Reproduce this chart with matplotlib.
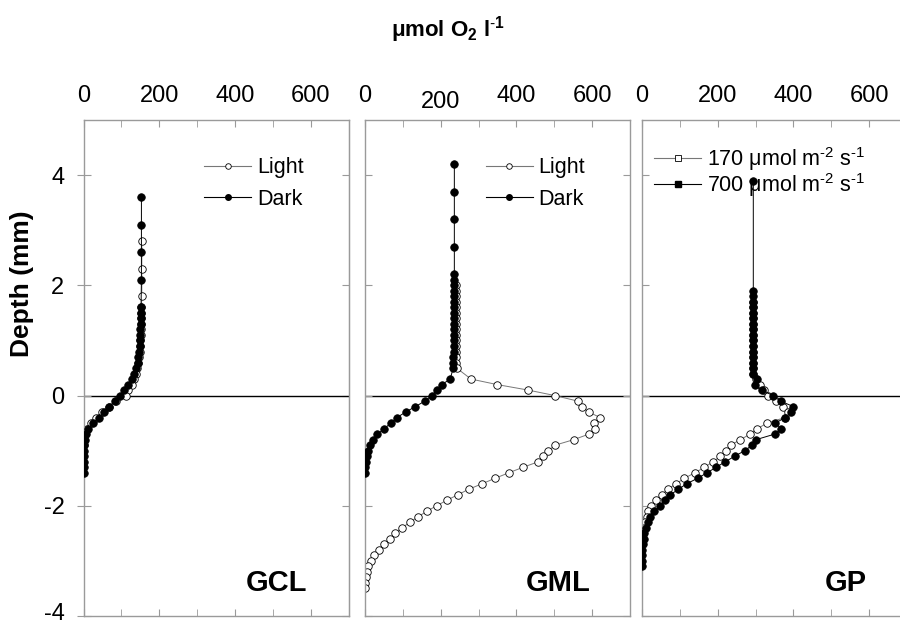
import matplotlib
matplotlib.use('Agg')
import matplotlib.pyplot as plt
from matplotlib.lines import Line2D
from matplotlib.transforms import ScaledTranslation

plt.rcParams['font.family'] = ['Liberation Sans', 'DejaVu Sans']
plt.rcParams['mathtext.fontset'] = 'custom'
plt.rcParams['mathtext.rm'] = 'Liberation Sans'
plt.rcParams['mathtext.bf'] = 'Liberation Sans:bold'
plt.rcParams['axes.unicode_minus'] = False

# GCL
gcl_dark_depth = [3.6, 3.1, 2.6, 2.1, 1.6, 1.5, 1.4, 1.3, 1.2, 1.1, 1.0, 0.9, 0.8, 0.7, 0.6, 0.5,
                  0.4, 0.3, 0.2, 0.1, 0.0, -0.1, -0.2, -0.3, -0.4, -0.5, -0.6, -0.7, -0.8, -0.9,
                  -1.0, -1.1, -1.2, -1.3, -1.4]
gcl_dark_o2 = [153, 153, 153, 153, 152, 152, 151, 151, 150, 150, 149, 148, 147, 145, 143, 139,
               134, 127, 118, 108, 97, 82, 68, 55, 40, 25, 12, 6, 3, 2,
               1, 1, 0, 0, 0]
gcl_light_depth = [2.8, 2.3, 1.8, 1.6, 1.5, 1.4, 1.3, 1.2, 1.1, 1.0, 0.9, 0.8, 0.7, 0.6, 0.5,
                   0.4, 0.3, 0.2, 0.1, 0.0, -0.1, -0.2, -0.3, -0.4, -0.5, -0.6, -0.7, -0.8, -0.9]
gcl_light_o2 = [154, 154, 154, 153, 153, 152, 152, 151, 151, 150, 149, 148, 147, 145, 142,
                138, 134, 127, 118, 112, 86, 68, 48, 33, 20, 10, 5, 2, 1]

# GML
gml_dark_depth = [4.2, 3.7, 3.2, 2.7, 2.2, 2.1, 2.0, 1.9, 1.8, 1.7, 1.6, 1.5, 1.4, 1.3, 1.2,
                  1.1, 1.0, 0.9, 0.8, 0.7, 0.6, 0.5, 0.3, 0.2, 0.1, 0.0, -0.1, -0.2, -0.3,
                  -0.4, -0.5, -0.6, -0.7, -0.8, -0.9, -1.0, -1.1, -1.2, -1.3, -1.4]
gml_dark_o2 = [236, 236, 236, 236, 236, 235, 235, 235, 235, 235, 235, 235, 235, 235, 234,
               234, 234, 234, 234, 233, 233, 233, 225, 203, 190, 176, 158, 133, 107,
               84, 68, 51, 33, 20, 13, 8, 5, 3, 1, 0]
gml_light_depth = [2.0, 1.9, 1.8, 1.7, 1.6, 1.5, 1.4, 1.3, 1.2, 1.1, 1.0, 0.9, 0.8, 0.7, 0.6,
                   0.5, 0.3, 0.2, 0.1, 0.0, -0.1, -0.2, -0.3, -0.4, -0.5, -0.6, -0.7, -0.8,
                   -0.9, -1.0, -1.1, -1.2, -1.3, -1.4, -1.5, -1.6, -1.7, -1.8, -1.9, -2.0,
                   -2.1, -2.2, -2.3, -2.4, -2.5, -2.6, -2.7, -2.8, -2.9, -3.0, -3.1, -3.2,
                   -3.3, -3.4, -3.5]
gml_light_o2 = [240, 240, 240, 240, 240, 240, 240, 240, 240, 240, 240, 240, 241, 241, 241,
                242, 280, 349, 431, 502, 562, 572, 591, 622, 604, 608, 591, 551,
                502, 484, 471, 458, 418, 380, 344, 309, 274, 245, 216, 189,
                163, 140, 118, 98, 80, 65, 49, 36, 25, 16, 9, 5,
                2, 1, 0]

# GP
gp_dark_depth = [3.9, 1.9, 1.8, 1.7, 1.6, 1.5, 1.4, 1.3, 1.2, 1.1, 1.0, 0.9, 0.8, 0.7, 0.6,
                 0.5, 0.4, 0.3, 0.2, 0.1, 0.0, -0.1, -0.2, -0.3, -0.4, -0.5, -0.6, -0.7,
                 -0.8, -0.9, -1.0, -1.1, -1.2, -1.3, -1.4, -1.5, -1.6, -1.7, -1.8, -1.9,
                 -2.0, -2.1, -2.2, -2.3, -2.4, -2.5, -2.6, -2.7, -2.8, -2.9, -3.0, -3.1]
gp_dark_o2 = [294, 294, 294, 294, 294, 294, 294, 294, 294, 294, 294, 294, 294, 294, 294,
              294, 294, 305, 298, 318, 345, 366, 400, 393, 378, 352, 368, 350,
              301, 291, 271, 245, 220, 196, 172, 147, 118, 96, 75, 60,
              48, 32, 22, 15, 10, 6, 4, 2, 1, 0, 0, 0]
gp_light_depth = [1.7, 1.6, 1.5, 1.4, 1.3, 1.2, 1.1, 1.0, 0.9, 0.8, 0.7, 0.6, 0.5, 0.4,
                  0.3, 0.2, 0.1, 0.0, -0.1, -0.2, -0.3, -0.4, -0.5, -0.6, -0.7, -0.8,
                  -0.9, -1.0, -1.1, -1.2, -1.3, -1.4, -1.5, -1.6, -1.7, -1.8, -1.9,
                  -2.0, -2.1, -2.2, -2.3, -2.4, -2.5, -2.6]
gp_light_o2 = [294, 294, 294, 294, 294, 294, 294, 294, 294, 294, 294, 294, 294, 294,
               300, 312, 322, 332, 354, 373, 385, 377, 330, 305, 285, 260,
               234, 223, 207, 188, 165, 140, 112, 90, 68, 52, 37,
               25, 17, 12, 8, 4, 1, 0]

panel_names = ['GCL', 'GML', 'GP']
x_labels = ['0', '200', '400', '600']
y_ticks = [-4, -2, 0, 2, 4]

gray = '#9a9a9a'
fig = plt.figure(figsize=(9, 6.23), dpi=100)

lefts = [83.5 / 900, 365 / 900, 642 / 900]
axes = []
for left in lefts:
    ax = fig.add_axes([left, 0.0112, 265 / 900, 0.7961])
    axes.append(ax)

series = [
    (gcl_light_depth, gcl_light_o2, gcl_dark_depth, gcl_dark_o2),
    (gml_light_depth, gml_light_o2, gml_dark_depth, gml_dark_o2),
    (gp_light_depth, gp_light_o2, gp_dark_depth, gp_dark_o2),
]

for i, ax in enumerate(axes):
    ld, lv, dd, dv = series[i]
    ax.axhline(0, color='black', lw=1.0, zorder=1)
    ax.plot(lv, ld, color='#777777', lw=0.7, marker='o', ms=5.4, mfc='white',
            mec='black', mew=0.6, zorder=2)
    ax.plot(dv, dd, color='black', lw=0.7, marker='o', ms=5.4, mfc='black',
            mec='black', mew=0.6, zorder=3)
    ax.set_xlim(0, 700)
    ax.set_ylim(-4, 5)
    ax.xaxis.tick_top()
    ax.set_xticks([0, 200, 400, 600])
    ax.set_xticklabels(x_labels)
    ax.set_xticks([100, 300, 500, 700], minor=True)
    ax.tick_params(axis='x', which='both', top=True, bottom=True, direction='in',
                   length=5, color=gray, labelsize=17, pad=9.5)
    ax.set_yticks(y_ticks)
    for sp in ax.spines.values():
        sp.set_color(gray)
        sp.set_linewidth(1.0)
    ax.text(0.73 if i < 2 else 0.77, 0.066, panel_names[i], transform=ax.transAxes,
            ha='center', va='center', fontsize=21, fontweight='bold')
    if i == 0:
        ax.tick_params(axis='y', direction='inout', length=9.4, color=gray,
                       labelsize=17, pad=9, right=False)
        axr = ax.secondary_yaxis('right')
        axr.set_yticks(y_ticks)
        axr.set_yticklabels([])
        axr.tick_params(direction='in', length=5, color=gray)
        axr.spines['right'].set_color(gray)
    else:
        ax.tick_params(axis='y', direction='in', length=5, color=gray,
                       left=True, right=True, labelleft=False)

# the "200" of the middle panel sits a little lower in the original
lab = axes[1].xaxis.get_major_ticks()[1].label2
lab.set_transform(lab.get_transform() + ScaledTranslation(0, -0.06, fig.dpi_scale_trans))
# keep "-4" inside the picture
lab = axes[0].yaxis.get_major_ticks()[0].label1
lab.set_transform(lab.get_transform() + ScaledTranslation(0, 0.05, fig.dpi_scale_trans))

# legends
leg_kw = dict(frameon=False, borderpad=0, borderaxespad=0, handletextpad=0.25,
              fontsize=15.5)
for ax in axes[:2]:
    h = [Line2D([], [], color='#777777', lw=0.8, marker='o', ms=4, mfc='white', mec='black', mew=0.6),
         Line2D([], [], color='black', lw=0.8, marker='o', ms=4, mfc='black', mec='black')]
    ax.legend(h, ['Light', 'Dark'], loc='upper left', bbox_to_anchor=(0.455, 0.925),
              handlelength=2.2, labelspacing=0.5, **leg_kw)

h = [Line2D([], [], color='#777777', lw=0.8, marker='s', ms=4, mfc='white', mec='black', mew=0.6),
     Line2D([], [], color='black', lw=0.8, marker='s', ms=4, mfc='black', mec='black')]
axes[2].legend(h, ['170 μmol m$^{\\text{-}2}$ s$^{\\text{-}1}$',
                   '700 μmol m$^{\\text{-}2}$ s$^{\\text{-}1}$'],
               loc='upper left', bbox_to_anchor=(0.045, 0.95), handlelength=2.2,
               labelspacing=-0.08, **leg_kw)

fig.text(0.498, 0.952, 'μmol O$_\\mathbf{2}$ l$^\\mathbf{\\text{-}1}$', ha='center', va='center',
         fontsize=16, fontweight='bold')
fig.text(0.025, 0.545, 'Depth (mm)', rotation=90, ha='center', va='center',
         fontsize=19, fontweight='bold')

fig.savefig('out.png', dpi=100)
